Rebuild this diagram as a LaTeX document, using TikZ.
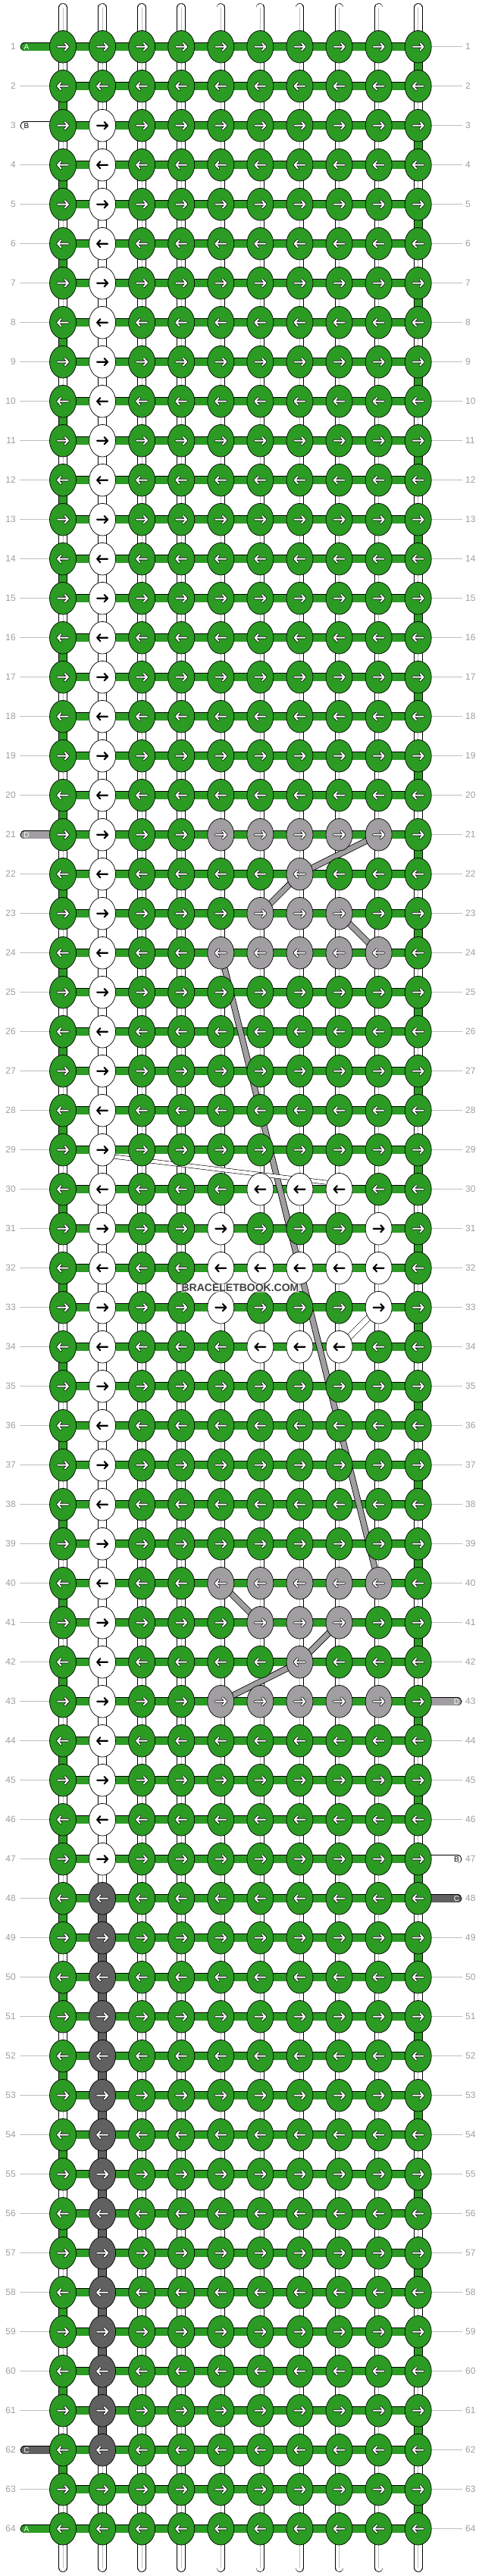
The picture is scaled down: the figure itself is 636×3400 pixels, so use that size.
\documentclass[tikz,border=0pt]{standalone}
\usepackage{fontspec}
\setmainfont{Liberation Sans}
\usetikzlibrary{shapes.geometric}
\definecolor{strA}{RGB}{43,155,35}
\definecolor{strB}{RGB}{255,255,255}
\definecolor{strC}{RGB}{96,96,96}
\definecolor{strD}{RGB}{160,158,160}
\definecolor{rowgray}{RGB}{158,158,158}
\definecolor{linegray}{RGB}{190,190,190}
\def\setknot#1#2#3{\expandafter\xdef\csname kc-#1-#2\endcsname{#3}}
\def\nonename{none}
\def\whitename{strB}
\def\arrowshape{(-7,0) -- (7,0) (2.6,-4.6) -- (7,0) -- (2.6,4.6)}
\begin{document}
\begin{tikzpicture}[x=1pt,y=-1pt,line join=round,
	knot/.style={ellipse,draw,line width=.7pt,minimum width=35pt,minimum height=42.6pt,inner sep=0pt},
	hbar/.style={double=strA,double distance=9.6pt,line width=.9pt},
	vstr/.style={double=white,double distance=10pt,line width=.8pt},
	midline/.style={draw=black!25,line width=.6pt},
	dstr/.style={double=strD,double distance=6.6pt,line width=.8pt},
	bstr/.style={double=white,double distance=4.5pt,line width=.6pt},
	rownum/.style={text=rowgray,font=\fontsize{12}{12}\selectfont,inner sep=0pt},
	tailtxt/.style={font=\fontsize{10}{10}\selectfont,inner sep=0pt}]
	\useasboundingbox (0,0) rectangle (636,3400);
	% colours of the knots that are not A
	\foreach \r in {3,...,47} {\setknot{\r}{2}{strB}}
	\foreach \r in {48,...,62} {\setknot{\r}{2}{strC}}
	\foreach \r/\cols in {21/{5,6,7,8,9},22/{7},23/{6,7,8},24/{5,6,7,8,9},40/{5,6,7,8,9},41/{6,7,8},42/{7},43/{5,6,7,8,9}}
		{\foreach \c in \cols {\setknot{\r}{\c}{strD}}}
	\foreach \r/\cols in {30/{6,7,8},31/{5,9},32/{5,6,7,8,9},33/{5,9},34/{6,7,8}}
		{\foreach \c in \cols {\setknot{\r}{\c}{strB}}}
	% grid
	\foreach \r in {1,...,64}
		\foreach \c in {1,...,10}
			\coordinate (p-\r-\c) at ({83+(\c-1)*52.08},{61.7+(\r-1)*52});
	% row numbers
	\foreach \r in {1,...,64}{
		\node[rownum,anchor=east] (nl-\r) at (21,{61.7+(\r-1)*52}) {\r};
		\node[rownum,anchor=west] (nr-\r) at (614,{61.7+(\r-1)*52}) {\r};
		\coordinate (tl-\r) at (32.4,{61.7+(\r-1)*52});
		\coordinate (tr-\r) at (603.6,{61.7+(\r-1)*52});
		\draw[linegray,line width=.8pt] ([xshift=5pt]nl-\r.east) -- (p-\r-1);
		\draw[linegray,line width=.8pt] (p-\r-10) -- ([xshift=-4pt]nr-\r.west);
	}
	% loose ends of the strings
	\foreach \c in {1,...,10}{
		\coordinate (top-\c) at ({83+(\c-1)*52.08},10);
		\coordinate (bot-\c) at ({83+(\c-1)*52.08},3389);
		\draw[vstr,line cap=round] (top-\c) -- (p-1-\c);
		\draw[midline] (top-\c) -- (p-1-\c);
		\draw[vstr,line cap=round] (p-64-\c) -- (bot-\c);
		\draw[midline] (p-64-\c) -- (bot-\c);
	}
	% strings between rows
	\foreach \r in {1,...,63}{
		\pgfmathtruncatemacro\rr{\r+1}
		\pgfmathtruncatemacro\rodd{mod(\r,2)}
		\foreach \c in {1,...,10}{
			\def\vcol{none}
			\ifnum\c=1 \ifnum\rodd=0 \def\vcol{strA}\fi\fi
			\ifnum\c=10 \ifnum\rodd=1 \def\vcol{strA}\fi\fi
			\ifnum\c=2 
				\ifnum\r>2 \ifnum\r<47 \def\vcol{strB}\fi\fi
				\ifnum\r>47 \ifnum\r<62 \def\vcol{strC}\fi\fi
			\fi
			\ifx\vcol\nonename
				\draw[vstr] (p-\r-\c) -- (p-\rr-\c);
				\draw[midline] (p-\r-\c) -- (p-\rr-\c);
			\else
				\draw[vstr,double=\vcol] (p-\r-\c) -- (p-\rr-\c);
			\fi
		}
	}
	% knotting threads
	\foreach \r in {1,...,64}
		\draw[hbar] (p-\r-1) -- (p-\r-10);
	\foreach \r/\col/\lab/\tc in {1/strA/A/white,3/strB/B/black,21/strD/D/white,62/strC/C/white,64/strA/A/white}{
		\draw[hbar,double=\col,line cap=round] (tl-\r) -- (p-\r-1);
		\node[tailtxt,text=\tc] (tla-\r) at ([xshift=2.6pt]tl-\r) {\lab};
	}
	\foreach \r/\col/\lab/\tc in {43/strD/D/white,47/strB/B/black,48/strC/C/white}{
		\draw[hbar,double=\col,line cap=round] (p-\r-10) -- (tr-\r);
		\node[tailtxt,text=\tc] (tra-\r) at ([xshift=-1.1pt]tr-\r) {\lab};
	}
	% carried strings
	\draw[dstr] (p-21-9) -- (p-22-7) -- (p-23-6);
	\draw[dstr] (p-23-8) -- (p-24-9);
	\draw[dstr] (p-24-5) -- (p-40-9);
	\draw[dstr] (p-40-5) -- (p-41-6);
	\draw[dstr] (p-41-8) -- (p-42-7) -- (p-43-5);
	\draw[bstr] ([yshift=-7pt]p-29-2) -- ([yshift=7pt]p-30-8);
	\draw[bstr,double distance=7pt] (p-33-9) -- (p-34-8);
	% knots
	\foreach \r in {1,...,64}{
		\pgfmathtruncatemacro\dir{mod(\r,2)==1 ? 1 : -1}
		\foreach \c in {1,...,10}{
			\ifcsname kc-\r-\c\endcsname \edef\kc{\csname kc-\r-\c\endcsname}\else \def\kc{strA}\fi
			\node[knot,fill=\kc] (k-\r-\c) at (p-\r-\c) {};
			\ifx\kc\whitename
				\draw[shift={(k-\r-\c.center)},xscale=\dir,line width=2.1pt,line cap=round] \arrowshape;
			\else
				\draw[shift={(k-\r-\c.center)},xscale=\dir,line width=3.5pt,line cap=round] \arrowshape;
				\draw[shift={(k-\r-\c.center)},xscale=\dir,white,line width=2pt,line cap=round] \arrowshape;
			\fi
		}
	}
	\node[font=\bfseries\fontsize{14}{14}\selectfont,text=black!75,fill=white,fill opacity=.5,text opacity=1,inner sep=1pt] (wm) at (317,1700) {BRACELETBOOK.COM};
\end{tikzpicture}
\end{document}
